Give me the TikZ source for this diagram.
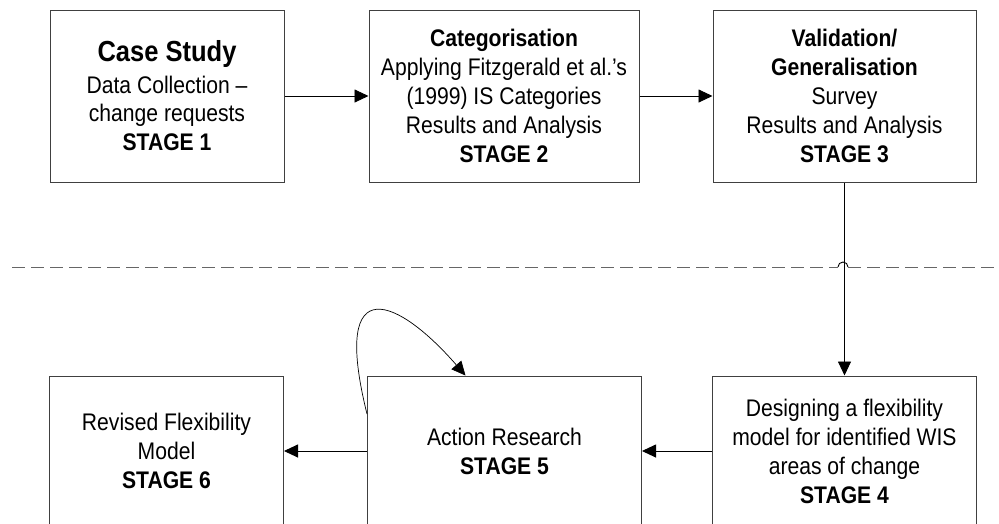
\documentclass[tikz,border=0pt]{standalone}
\usepackage{fontspec}
\setmainfont{Liberation Sans}[FakeStretch=0.88]
\usetikzlibrary{arrows.meta,positioning}

\begin{document}
\begin{tikzpicture}[x=1pt,y=1pt,->,>={Triangle[length=14pt,width=13pt]},
                    line width=0.9pt,node distance=80pt]
  \tikzset{every node/.style={font=\fontsize{24}{29}\selectfont,align=center},
           stagebox/.style={draw=black!75,line width=1pt,minimum height=172pt},
           lowbox/.style={draw=black!75,line width=1pt,minimum height=150pt},
           divider/.style={-,draw=black!60,line width=1pt,dash pattern=on 13pt off 6pt}}

  \useasboundingbox (0,0) rectangle (999,-523);
  \clip (0,0) rectangle (999,-523);

  \node[stagebox,minimum width=234pt] (s1) at (167,-96)
       {{\fontsize{29}{30}\selectfont\bfseries Case Study}\\[3pt]
        Data Collection --\\[-1pt]change requests\\\textbf{STAGE 1}};
  \node[stagebox,minimum width=270pt] (s2) [right=84pt of s1]
       {\textbf{Categorisation}\\Applying Fitzgerald et al.'s\\(1999) IS Categories\\
        Results and Analysis\\\textbf{STAGE 2}};
  \node[stagebox,minimum width=263pt] (s3) [right=73pt of s2]
       {\textbf{Validation/}\\\textbf{Generalisation}\\Survey\\
        Results and Analysis\\\textbf{STAGE 3}};
  \node[lowbox,minimum width=264pt]   (s4) [below=193pt of s3]
       {Designing a flexibility\\model for identified WIS\\areas of change\\\textbf{STAGE 4}};
  \node[lowbox,minimum width=274pt]   (s5) [left=70pt of s4]
       {Action Research\\\textbf{STAGE 5}};
  \node[lowbox,minimum width=234pt]   (s6) [left=83pt of s5]
       {Revised Flexibility\\Model\\\textbf{STAGE 6}};

  % phase divider, with a hop where the flow crosses it
  \draw[divider] (12,-267) -- (838,-267);
  \draw[divider] (848,-267) -- (999,-267);
  \draw[-] (838,-267) arc[start angle=180,end angle=0,radius=5];

  \draw (s1) -- (s2);
  \draw (s2) -- (s3);
  \draw (s3) -- (s4);
  \draw (s4) -- (s5);
  \draw (s5) -- (s6);
  \draw[line width=0.7pt] ([yshift=37pt]s5.west) .. controls (330,-265) and (400,-300)
        .. ([xshift=-39pt]s5.north);
\end{tikzpicture}
\end{document}
